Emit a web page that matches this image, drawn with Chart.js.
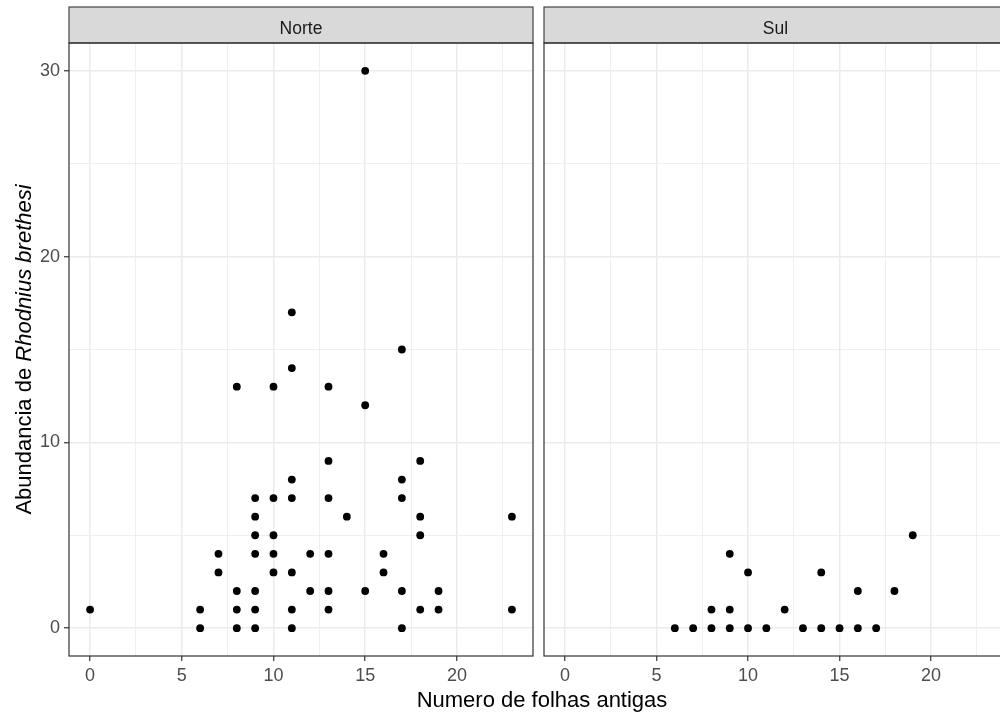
<!DOCTYPE html>
<html>
<head>
<meta charset="utf-8">
<script src="https://cdn.jsdelivr.net/npm/chart.js@4.4.0/dist/chart.umd.min.js"></script>
<style>
html,body{margin:0;padding:0;width:1000px;height:716px;overflow:hidden;background:#fff;}
#c1{position:absolute;left:0;top:0;}
#c2{position:absolute;left:536px;top:0;}
#xt{position:absolute;left:0;width:1084px;top:689px;text-align:center;font-family:"Liberation Sans",Arial,sans-serif;font-size:22px;line-height:22px;color:#000;white-space:pre;}
</style>
</head>
<body>
<canvas id="c1" width="540" height="716"></canvas>
<canvas id="c2" width="480" height="716"></canvas>
<div id="xt">Numero de folhas antigas</div>
<script>
// ---- data ----
const facets = ['Norte', 'Sul'];
const norteX = [0,6,6,7,7,8,8,8,8,9,9,9,9,9,9,9,10,10,10,10,10,11,11,11,11,11,11,11,12,12,13,13,13,13,13,13,14,15,15,15,16,16,17,17,17,17,17,18,18,18,18,19,19,23,23];
const norteY = [1,1,0,4,3,13,2,1,0,7,6,5,4,2,1,0,13,7,5,4,3,17,14,8,7,3,1,0,4,2,13,9,7,4,2,1,6,30,12,2,4,3,15,8,7,2,0,9,6,5,1,2,1,6,1];
const sulX = [6,7,8,8,9,9,9,10,10,11,12,13,14,14,15,16,16,17,18,19];
const sulY = [0,0,0,1,0,1,4,0,3,0,1,0,0,3,0,0,2,0,2,5];
const xMajor = [0,5,10,15,20];
const xMinor = [2.5,7.5,12.5,17.5,22.5];
const yMajor = [0,10,20,30];
const yMinor = [5,15,25];
const xTitle = 'Numero de folhas antigas';
const yTitleNormal = 'Abundancia de ';
const yTitleItalic = 'Rhodnius brethesi';

const FONT = '"Liberation Sans", Arial, sans-serif';
const xAll = xMajor.concat(xMinor).sort((a,b)=>a-b);
const yAll = yMajor.concat(yMinor).sort((a,b)=>a-b);

const panelPlugin = {
  id: 'panel',
  afterDraw(chart, args, opts) {
    const ctx = chart.ctx, a = chart.chartArea;
    ctx.save();
    // strip
    const sTop = 7, sBot = a.top;
    ctx.fillStyle = '#D9D9D9';
    ctx.fillRect(a.left, sTop, a.right - a.left, sBot - sTop);
    ctx.strokeStyle = '#333333';
    ctx.lineWidth = 1.1;
    ctx.strokeRect(a.left, sTop, a.right - a.left, sBot - sTop);
    ctx.fillStyle = '#1A1A1A';
    ctx.font = '17.5px ' + FONT;
    ctx.textAlign = 'center';
    ctx.textBaseline = 'alphabetic';
    ctx.fillText(opts.label, (a.left + a.right) / 2, 33.5);
    // panel border
    ctx.lineWidth = 1.2;
    ctx.strokeRect(a.left, a.top, a.right - a.left, a.bottom - a.top);
    // y title
    if (opts.yTitle) {
      ctx.translate(30.5, (a.top + a.bottom) / 2);
      ctx.rotate(-Math.PI / 2);
      ctx.textAlign = 'left';
      ctx.fillStyle = '#000';
      ctx.font = '22px ' + FONT;
      const w1 = ctx.measureText(yTitleNormal).width;
      ctx.font = 'italic 22px ' + FONT;
      const w2 = ctx.measureText(yTitleItalic).width;
      const start = -(w1 + w2) / 2;
      ctx.font = '22px ' + FONT;
      ctx.fillText(yTitleNormal, start, 0);
      ctx.font = 'italic 22px ' + FONT;
      ctx.fillText(yTitleItalic, start + w1, 0);
    }
    ctx.restore();
  }
};

function makeChart(id, label, xs, ys, showY, yWidth, padRight) {
  const pts = xs.map((x, i) => ({x: x, y: ys[i]}));
  return new Chart(document.getElementById(id), {
    type: 'scatter',
    data: { datasets: [{ data: pts, backgroundColor: '#000', borderWidth: 0, pointRadius: 3.9, pointHoverRadius: 3.9 }] },
    options: {
      responsive: false,
      animation: false,
      devicePixelRatio: 1,
      layout: { padding: { left: 0, right: padRight, top: 43, bottom: 0 } },
      plugins: { legend: { display: false }, tooltip: { enabled: false },
        panel: { label: label, yTitle: showY } },
      scales: {
        x: {
          type: 'linear', min: -1.15, max: 24.15,
          afterBuildTicks: s => { s.ticks = xAll.map(v => ({value: v})); },
          afterFit: s => { s.height = 60; },
          border: { display: false },
          grid: {
            color: '#EBEBEB',
            lineWidth: c => (c.tick && xMajor.includes(c.tick.value)) ? 1.5 : 0.8,
            tickColor: c => (c.tick && xMajor.includes(c.tick.value)) ? '#333333' : 'rgba(0,0,0,0)',
            tickLength: 5, tickWidth: 1.2
          },
          ticks: {
            autoSkip: false, maxRotation: 0, minRotation: 0, padding: 4,
            color: '#4D4D4D', font: { family: FONT, size: 18 },
            callback: v => xMajor.includes(v) ? String(v) : ''
          }
        },
        y: {
          type: 'linear', min: -1.5, max: 31.5,
          afterBuildTicks: s => { s.ticks = yAll.map(v => ({value: v})); },
          afterFit: s => { s.width = yWidth; },
          border: { display: false },
          grid: {
            color: '#EBEBEB',
            lineWidth: c => (c.tick && yMajor.includes(c.tick.value)) ? 1.5 : 0.8,
            tickColor: c => (showY && c.tick && yMajor.includes(c.tick.value)) ? '#333333' : 'rgba(0,0,0,0)',
            drawTicks: showY,
            tickLength: 5, tickWidth: 1.2
          },
          ticks: {
            display: showY, autoSkip: false, padding: 4,
            color: '#4D4D4D', font: { family: FONT, size: 18 },
            callback: v => yMajor.includes(v) ? String(v) : ''
          }
        }
      }
    },
    plugins: [panelPlugin]
  });
}

makeChart('c1', facets[0], norteX, norteY, true, 69, 7);
makeChart('c2', facets[1], sulX, sulY, false, 8, 9);
</script>
</body>
</html>
